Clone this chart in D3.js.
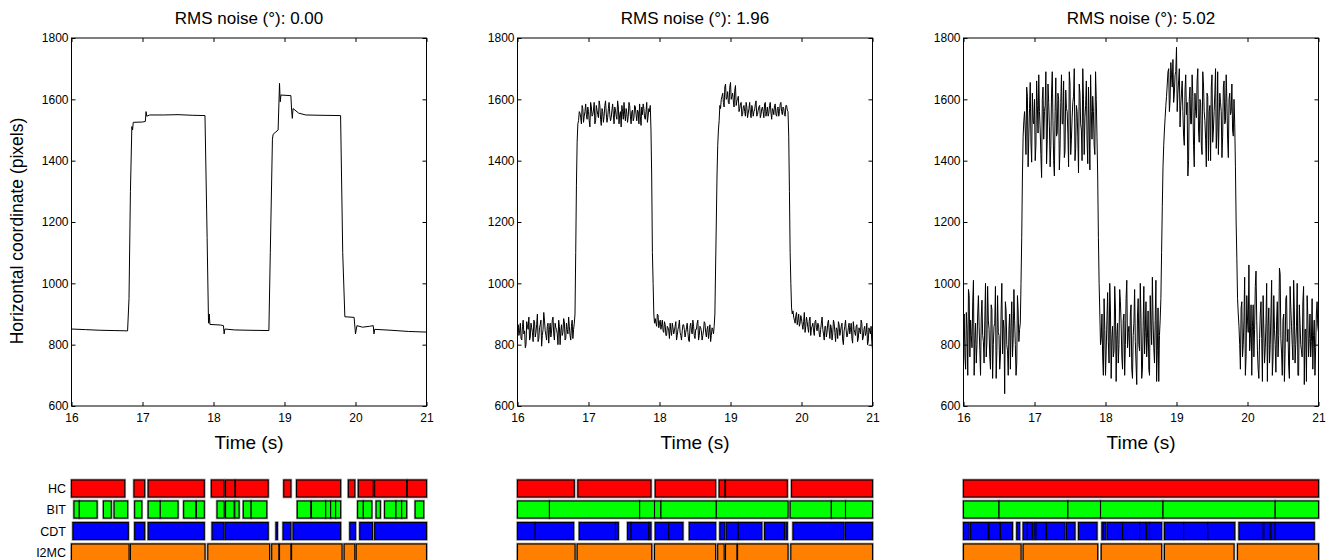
<!DOCTYPE html>
<html><head><meta charset="utf-8">
<script src="https://cdn.jsdelivr.net/npm/d3@7"></script>
<style>
html,body{margin:0;padding:0;background:#fff;}
svg{display:block;font-family:"Liberation Sans",Arial,Helvetica,sans-serif;}
</style></head>
<body><svg id="chart" width="1333" height="560"></svg>
<script>
// ---------------- DATA ----------------
const panelTitles = ["RMS noise (°): 0.00", "RMS noise (°): 1.96", "RMS noise (°): 5.02"];
const xTicks = [16, 17, 18, 19, 20, 21];
const yTicks = [600, 800, 1000, 1200, 1400, 1600, 1800];
const methods = ["HC", "BIT", "CDT", "I2MC"];
const methodColors = ["#ff0000", "#00ff00", "#0000ff", "#ff8000"];

// Panel 1 (no noise): time / value pairs
const clean_t = [16.00,16.20,16.40,16.60,16.79,16.81,16.83,16.85,16.86,16.87,17.00,17.04,17.05,17.06,17.10,17.30,17.50,17.70,17.88,17.91,17.93,17.94,17.95,18.10,18.14,18.15,18.16,18.30,18.50,18.78,18.80,18.83,18.84,18.91,18.93,18.94,18.95,19.09,19.10,19.11,19.12,19.20,19.30,19.50,19.79,19.82,19.85,19.98,20.00,20.02,20.10,20.20,20.25,20.26,20.27,20.50,20.75,21.00];
const clean_v = [851,849,847,846,845,950,1300,1511,1500,1525,1526,1528,1560,1545,1549,1549,1550,1548,1547,1150,870,900,866,864,862,835,851,848,847,846,1100,1470,1486,1500,1652,1592,1614,1612,1565,1538,1570,1555,1549,1548,1547,1100,891,889,835,862,857,860,862,835,850,847,843,841];

// Panels 2 and 3: samples every 0.01 s from 16.00 to 21.00,
// stored as the even samples (16.00, 16.02, ...) and the odd samples (16.01, 16.03, ...)
const sampleStart = 16, sampleStep = 0.02;
const noise196_v = [
850,830,870,815,880,845,800,860,890,825, 855,810,875,840,900,820,865,795,850,880,
830,860,805,870,845,890,815,855,835,880, 800,865,840,875,820,850,890,830,860,820, 870,
1100,1460,
1530,1555,1520,1570,1545,1585,1535,1560,1510,1575, 1550,1590,1530,1565,1540,1580,1515,1560,1545,1595,
1525,1570,1550,1540,1585,1520,1565,1535,1575,1550, 1510,1560,1590,1530,1555,1545,1580,1520,1565,1540,
1575,1530,1560,1585,1515,1550,1570,1535,1590,1545, 1560,
1500,1100,900,
885,860,895,870,850,880,840,865,830,855, 820,845,870,835,860,815,850,880,830,845,
865,825,855,840,810,870,835,860,820,850, 880,830,855,815,845,870,825,860,840,810, 855,835,
900,1200,1450,1530,
1570,1610,1590,1640,1600,1625,1585,1655,1610,1595, 1630,1580,1600,1560,1585,1545,1575,1560,1590,1540,
1570,1555,1580,1545,1565,1595,1550,1575,1540,1570, 1560,1585,1545,1575,1555,1590,1535,1565,1580,1550,
1570,1545,1585,1560,1575,1550,1580,1565,
1480,1100,920,
910,880,895,865,900,870,885,850,905,860, 875,840,890,855,870,830,880,845,865,825,
870,850,815,860,840,880,820,855,835,870, 810,850,875,830,860,815,845,880,825,855,
835,870,805,850,830,865,820,845,880,815, 850,830,870,810,845,860,785];
const noise196_mid = [
865,845,820,860,835,790,875,850,815,870, 840,880,825,865,810,855,880,830,905,845,
815,870,850,825,880,835,870,850,800,860, 845,830,885,815,870,835,860,815,880,850,
900,1320,1520,
1560,1540,1580,1525,1560,1550,1575,1530,1590,1545, 1565,1520,1580,1550,1595,1535,1570,1525,1580,1555,
1540,1590,1530,1565,1550,1575,1545,1595,1520,1560, 1580,1535,1550,1570,1525,1590,1545,1560,1530,1580,
1550,1565,1520,1545,1575,1585,1540,1560,1525,1570,
1580,1350,1000,870,
870,900,855,880,865,845,875,830,860,845, 870,830,855,845,875,830,860,840,815,865,
850,840,870,815,860,845,880,830,850,870, 815,860,845,830,875,840,850,820,865,830, 850,
860,1050,1350,1500,
1580,1600,1620,1575,1650,1605,1590,1640,1600,1620, 1575,1645,1595,1610,1570,1590,1550,1580,1545,1575,
1555,1590,1540,1570,1560,1585,1545,1565,1580,1550, 1575,1540,1590,1560,1545,1580,1555,1570,1550,1585,
1545,1575,1560,1590,1550,1570,1545,1580,
1560,1300,1000,900,
890,870,905,880,860,895,865,875,840,890, 855,880,830,860,845,875,855,870,835,850,
890,835,860,825,870,845,865,815,880,840, 855,820,865,845,870,800,860,845,835,870,
850,820,875,840,860,810,855,835,870,825, 860,840,800,855,835,810];
const noise502_v = [
830,760,905,700,960,880,790,1010,820,740, 900,860,700,945,810,880,760,990,850,720,
915,800,870,690,960,830,760,1000,880,640, 910,780,850,720,940,820,880,700,960,810, 870,
1150,1480,
1560,1420,1610,1480,1655,1395,1530,1600,1450,1580, 1680,1500,1345,1640,1560,1690,1470,1590,1380,1620,
1530,1350,1670,1490,1600,1440,1680,1520,1410,1630, 1560,1380,1650,1470,1590,1700,1440,1560,1360,1620,
1500,1700,1420,1580,1470,1640,1370,1560,1610,1450, 1690,
1480,1150,900,
820,760,950,700,880,810,1000,690,860,780, 920,830,740,980,870,720,900,800,1010,840,
760,930,690,870,810,670,950,780,880,720, 990,840,760,910,700,860,1020,790,880,680, 920,830,
950,1250,1450,1540,
1610,1690,1560,1720,1640,1590,1680,1770,1620,1700, 1580,1660,1480,1630,1550,1350,1600,1520,1680,1450,
1620,1540,1700,1460,1590,1420,1650,1530,1380,1610, 1560,1400,1680,1500,1620,1440,1690,1530,1590,1410,
1640,1520,1680,1470,1600,1550,1650,1480,
1520,1200,950,
860,720,940,800,1020,760,880,1060,820,700, 930,850,1040,780,690,900,820,960,740,870,
680,920,800,1010,760,850,710,940,830,1030, 770,880,680,950,810,730,990,860,750,910,
800,1000,700,870,780,940,670,850,960,760, 900,810,720,880,790,940,840];
const noise502_mid = [
900,720,850,980,760,830,940,700,870,800, 960,780,890,830,740,1000,810,880,760,930,
690,860,990,780,840,720,910,770,850,940, 800,700,900,860,760,980,800,740,910,850,
1000,1350,1530,
1500,1640,1380,1570,1460,1620,1520,1400,1660,1490, 1560,1420,1600,1470,1580,1390,1650,1510,1450,1690,
1400,1560,1480,1620,1370,1590,1520,1660,1430,1570, 1490,1690,1420,1540,1610,1400,1580,1480,1650,1520,
1400,1600,1540,1660,1390,1510,1680,1470,1560,1420,
1600,1350,1000,800,
900,700,850,780,970,740,910,820,760,990, 680,870,800,940,760,880,700,950,790,860,
900,720,830,980,740,890,800,1000,690,860, 770,940,820,720,960,800,880,740,1010,780, 680,
880,1100,1380,1500,
1580,1650,1700,1600,1680,1730,1620,1690,1560,1660, 1510,1620,1560,1450,1680,1590,1400,1640,1520,1610,
1380,1560,1660,1500,1600,1450,1690,1560,1470,1620, 1400,1580,1640,1460,1560,1700,1500,1420,1620,1560,
1480,1660,1530,1590,1410,1620,1560,1500,
1600,1380,1080,900,
800,920,760,880,700,960,840,780,930,860, 760,990,880,720,820,940,680,850,790,1000,
860,740,900,700,960,800,880,760,1050,820, 700,900,780,960,850,690,920,800,1010,740,
860,700,930,800,760,990,850,680,890,820, 760,950,830,700,900,860];

// Event segments [start, end] in seconds, per panel and method
const p1_HC  = [[16.0,16.75],[16.88,17.03],[17.08,17.87],[17.97,18.15],[18.17,18.30],[18.31,18.77],[18.99,19.09],[19.17,19.79],[19.90,19.99],[20.04,20.25],[20.27,20.72],[20.73,21.0]];
const p1_BIT = [[16.035,16.11],[16.11,16.36],[16.45,16.56],[16.60,16.79],[16.89,16.99],[17.08,17.25],[17.25,17.50],[17.58,17.75],[17.76,17.87],[18.05,18.15],[18.17,18.29],[18.30,18.36],[18.42,18.53],[18.53,18.75],[19.18,19.37],[19.38,19.58],[19.58,19.65],[19.65,19.72],[19.72,19.79],[20.03,20.11],[20.11,20.23],[20.29,20.35],[20.41,20.57],[20.57,20.65],[20.65,20.72],[20.84,20.96]];
const p1_CDT = [[16.02,16.80],[16.89,17.03],[17.08,17.87],[17.98,18.14],[18.16,18.77],[18.88,18.90],[18.98,19.09],[19.12,19.79],[19.92,20.00],[20.06,20.24],[20.27,21.0]];
const p1_I2MC = [[16.0,16.81],[16.83,17.88],[17.92,18.79],[18.82,18.92],[18.93,19.09],[19.10,19.81],[19.84,19.99],[20.01,21.0]];

const p2_HC  = [[16.0,16.80],[16.85,17.88],[17.94,18.79],[18.84,18.92],[18.93,19.80],[19.86,21.0]];
const p2_BIT = [[16.0,16.45],[16.45,17.72],[17.72,17.93],[17.93,18.02],[18.02,18.80],[18.80,19.81],[19.84,20.42],[20.42,20.62],[20.62,21.0]];
const p2_CDT = [[16.0,16.25],[16.25,16.79],[16.87,17.38],[17.38,17.42],[17.55,17.60],[17.60,17.85],[17.85,17.88],[17.94,18.13],[18.13,18.33],[18.42,18.79],[18.85,18.92],[18.94,19.11],[19.11,19.44],[19.48,19.76],[19.78,19.80],[19.88,20.60],[20.62,21.0]];
const p2_I2MC = [[16.0,16.81],[16.84,17.89],[17.93,18.79],[18.82,18.91],[18.93,19.09],[19.10,19.81],[19.85,21.0]];

const p3_HC  = [[16.0,21.0]];
const p3_BIT = [[16.0,16.50],[16.50,17.47],[17.47,17.93],[17.93,18.81],[18.81,20.39],[20.39,21.0]];
const p3_CDT = [[16.0,16.08],[16.10,16.35],[16.36,16.51],[16.52,16.69],[16.75,16.79],[16.84,16.90],[16.90,16.97],[16.99,17.01],[17.02,17.16],[17.17,17.43],[17.45,17.57],[17.62,17.88],[17.95,17.97],[17.97,18.00],[18.02,18.24],[18.24,18.48],[18.48,18.57],[18.58,18.62],[18.62,18.79],[18.83,19.10],[19.10,19.44],[19.44,19.82],[19.88,20.22],[20.23,20.32],[20.33,20.39],[20.39,20.94]];
const p3_I2MC = [[16.0,16.81],[16.84,17.89],[17.94,18.79],[18.83,19.81],[19.86,21.0]];

// ---------------- BUILD ----------------
function mergeSamples(even, odd) {
  const out = [];
  even.forEach((v, i) => {
    out.push([sampleStart + i * sampleStep, v]);
    if (i < odd.length) out.push([sampleStart + (i + 0.5) * sampleStep, odd[i]]);
  });
  return out;
}
const panels = [
  {pts: clean_t.map((t, i) => [t, clean_v[i]]), left: 71.5, segs: [p1_HC, p1_BIT, p1_CDT, p1_I2MC], labels: true},
  {pts: mergeSamples(noise196_v, noise196_mid), left: 517.5, segs: [p2_HC, p2_BIT, p2_CDT, p2_I2MC], labels: false},
  {pts: mergeSamples(noise502_v, noise502_mid), left: 963.5, segs: [p3_HC, p3_BIT, p3_CDT, p3_I2MC], labels: false}
];
const plotW = 355, plotTop = 38, plotBottom = 406;
const svg = d3.select("#chart");

const yScale = d3.scaleLinear().domain([600, 1800]).range([plotBottom, plotTop]);

panels.forEach((p, pi) => {
  const x = d3.scaleLinear().domain([16, 21]).range([p.left, p.left + plotW]);
  const g = svg.append("g");

  g.append("text").attr("x", p.left + plotW / 2).attr("y", 24)
    .attr("text-anchor", "middle").attr("font-size", 17).text(panelTitles[pi]);

  const bottom = g.append("g").attr("transform", `translate(0,${plotBottom})`)
    .call(d3.axisBottom(x).tickValues(xTicks).tickSize(-4).tickPadding(7).tickFormat(d3.format("d")));
  const top = g.append("g").attr("transform", `translate(0,${plotTop})`)
    .call(d3.axisTop(x).tickValues(xTicks).tickSize(-4).tickFormat(""));
  const left = g.append("g").attr("transform", `translate(${p.left},0)`)
    .call(d3.axisLeft(yScale).tickValues(yTicks).tickSize(-4).tickPadding(3).tickFormat(d3.format("d")));
  const right = g.append("g").attr("transform", `translate(${p.left + plotW},0)`)
    .call(d3.axisRight(yScale).tickValues(yTicks).tickSize(-4).tickFormat(""));
  [bottom, top, left, right].forEach(a => {
    a.select(".domain").remove();
    a.selectAll("text").attr("font-size", 12).attr("font-family", "Liberation Sans, Arial, sans-serif").attr("fill", "#000");
    a.selectAll("line").attr("stroke", "#000");
  });
  g.append("rect").attr("x", p.left).attr("y", plotTop).attr("width", plotW).attr("height", plotBottom - plotTop)
    .attr("fill", "none").attr("stroke", "#000").attr("stroke-width", 1);

  g.append("path").datum(p.pts)
    .attr("fill", "none").attr("stroke", "#000").attr("stroke-width", 1)
    .attr("d", d3.line().x(d => x(d[0])).y(d => yScale(d[1])));

  g.append("text").attr("x", p.left + plotW / 2).attr("y", 449)
    .attr("text-anchor", "middle").attr("font-size", 19).text("Time (s)");

  const rowTop = [480, 501, 522.5, 544];
  const rowH = 17;
  methods.forEach((m, mi) => {
    if (p.labels) {
      g.append("text").attr("x", 66).attr("y", rowTop[mi] + rowH / 2 + 4.5)
        .attr("text-anchor", "end").attr("font-size", 12.5).text(m);
    }
    const segs = p.segs[mi];
    g.selectAll(null).data(segs).enter().append("rect")
      .attr("x", d => x(d[0])).attr("y", rowTop[mi])
      .attr("width", d => Math.max(0.5, x(d[1]) - x(d[0]))).attr("height", rowH)
      .attr("fill", "none").attr("stroke", "#9a9a9a").attr("stroke-width", 2.6);
    g.selectAll(null).data(segs).enter().append("rect")
      .attr("x", d => x(d[0])).attr("y", rowTop[mi])
      .attr("width", d => Math.max(0.5, x(d[1]) - x(d[0]))).attr("height", rowH)
      .attr("fill", methodColors[mi]).attr("stroke", "#000").attr("stroke-width", 1.1);
  });
});

svg.append("text").attr("transform", "translate(23,231) rotate(-90)")
  .attr("text-anchor", "middle").attr("font-size", 17.5).text("Horizontal coordinate (pixels)");
</script></body></html>
